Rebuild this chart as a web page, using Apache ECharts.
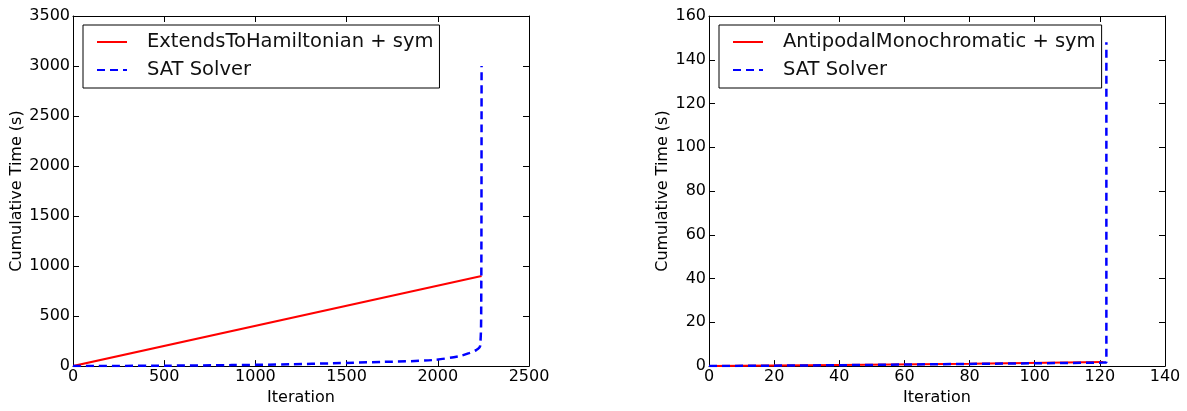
<!DOCTYPE html>
<html>
<head>
<meta charset="utf-8">
<script src="https://cdn.jsdelivr.net/npm/echarts@6/dist/echarts.min.js"></script>
<style>
  html, body { margin: 0; padding: 0; background: #fff; }
  #main { width: 1187px; height: 411px; }
</style>
</head>
<body>
<div id="main"></div>
<script>
// left panel
var leftNames = ['ExtendsToHamiltonian + sym', 'SAT Solver'];
var leftRedX = [0, 2240];
var leftRedY = [0, 900];
var leftBlueX = [0, 500, 870, 1200, 1420, 1700, 1970, 2116, 2171, 2210, 2232, 2238, 2240];
var leftBlueY = [0, 4, 10, 18, 28, 42, 60, 99, 129, 160, 200, 600, 3000];

// right panel
var rightNames = ['AntipodalMonochromatic + sym', 'SAT Solver'];
var rightRedX = [0, 40, 80, 121];
var rightRedY = [0, 0.5, 1.1, 1.9];
var rightBlueX = [0, 40, 80, 121, 122, 122];
var rightBlueY = [0, 0.4, 1.0, 1.6, 1.7, 148];

function pairs(xs, ys) {
	var out = [];
	for (var i = 0; i < xs.length; i++) out.push([xs[i], ys[i]]);
	return out;
}

var font = 'DejaVu Sans';
var black = '#000';
function plain(v) { return String(v); }

function xAx(gi, max, interval, show) {
	return {
		type: 'value', gridIndex: gi, min: 0, max: max, interval: interval,
		position: show ? 'bottom' : 'top',
		name: show ? 'Iteration' : '', nameLocation: 'middle', nameGap: 22,
		nameTextStyle: { fontFamily: font, fontSize: 16, color: black },
		axisLine: { show: true, onZero: false, lineStyle: { color: black, width: 1 } },
		axisTick: { show: true, inside: true, length: 6, lineStyle: { color: black } },
		axisLabel: { show: show, fontFamily: font, fontSize: 16, color: black, margin: 3, formatter: plain },
		splitLine: { show: false }
	};
}
function yAx(gi, max, interval, show, gap) {
	return {
		type: 'value', gridIndex: gi, min: 0, max: max, interval: interval,
		position: show ? 'left' : 'right',
		name: show ? 'Cumulative Time (s)' : '', nameLocation: 'middle', nameGap: gap,
		nameTextStyle: { fontFamily: font, fontSize: 16, color: black },
		axisLine: { show: true, onZero: false, lineStyle: { color: black, width: 1 } },
		axisTick: { show: true, inside: true, length: 6, lineStyle: { color: black } },
		axisLabel: { show: show, fontFamily: font, fontSize: 16, color: black, margin: 3, formatter: plain },
		splitLine: { show: false }
	};
}

function legendFor(names, left) {
	return {
		data: names, left: left, top: 25, orient: 'vertical',
		itemWidth: 30, itemHeight: 10, itemGap: 8,
		padding: [7, 6, 8, 13],
		borderColor: black, borderWidth: 1,
		itemStyle: { opacity: 0 },
		textStyle: { fontFamily: font, fontSize: 19.5, lineHeight: 20, color: '#111', padding: [0, 0, 0, 15] }
	};
}

var myChart = echarts.init(document.getElementById('main'));
var option = {
	animation: false,
	backgroundColor: '#fff',
	grid: [
		{ left: 73, right: 658, top: 16, bottom: 43, containLabel: false },
		{ left: 709, right: 22, top: 16, bottom: 43, containLabel: false }
	],
	legend: [legendFor(leftNames, 83), legendFor(rightNames, 719)],
	xAxis: [xAx(0, 2500, 500, true), xAx(0, 2500, 500, false), xAx(1, 140, 20, true), xAx(1, 140, 20, false)],
	yAxis: [yAx(0, 3500, 500, true, 48), yAx(0, 3500, 500, false, 0), yAx(1, 160, 20, true, 38), yAx(1, 160, 20, false, 0)],
	series: [
		{
			name: leftNames[0], type: 'line', xAxisIndex: 0, yAxisIndex: 0,
			data: pairs(leftRedX, leftRedY), showSymbol: false, symbol: 'none',
			lineStyle: { color: '#ff0000', width: 2 }, itemStyle: { color: '#ff0000' }
		},
		{
			name: leftNames[1], type: 'line', xAxisIndex: 0, yAxisIndex: 0, smooth: 0.3,
			data: pairs(leftBlueX, leftBlueY), showSymbol: false, symbol: 'none',
			lineStyle: { color: '#0000ff', width: 2.5, type: [8, 5] }, itemStyle: { color: '#0000ff' }
		},
		{
			name: rightNames[0], type: 'line', xAxisIndex: 2, yAxisIndex: 2,
			data: pairs(rightRedX, rightRedY), showSymbol: false, symbol: 'none',
			lineStyle: { color: '#ff0000', width: 2 }, itemStyle: { color: '#ff0000' }
		},
		{
			name: rightNames[1], type: 'line', xAxisIndex: 2, yAxisIndex: 2,
			data: pairs(rightBlueX, rightBlueY), showSymbol: false, symbol: 'none',
			lineStyle: { color: '#0000ff', width: 2.5, type: [8, 5] }, itemStyle: { color: '#0000ff' }
		}
	]
};
myChart.setOption(option);
</script>
</body>
</html>
